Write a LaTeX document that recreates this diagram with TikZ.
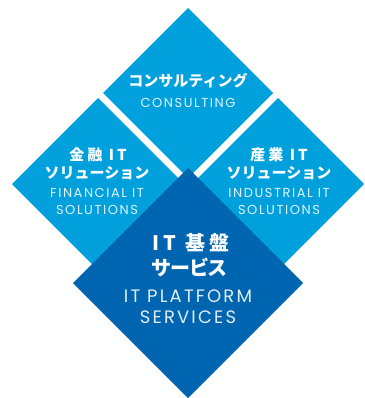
\documentclass[tikz,border=0pt]{standalone}
\usepackage{fontspec}
\newfontfamily\jpfont{Noto Sans CJK JP}
\newfontfamily\jpwide{Noto Sans CJK JP}[LetterSpace=20]
\newfontfamily\jppalt{Noto Sans CJK JP}[RawFeature=+palt]
\newfontfamily\enfont{Poppins}[LetterSpace=12]
\definecolor{lightblue}{HTML}{00A0DC}
\definecolor{darkblue}{HTML}{0065B0}
\tikzset{
  jp/.style={text=white, font=\jpfont\bfseries\fontsize{15}{17}\selectfont, inner sep=0pt},
  jpsp/.style={text=white, font=\jpwide\bfseries\fontsize{15}{17}\selectfont, inner sep=0pt},
  jpbig/.style={text=white, font=\jpwide\bfseries\fontsize{20}{22}\selectfont, inner sep=0pt},
  jpbigp/.style={text=white, font=\jppalt\bfseries\fontsize{20}{22}\selectfont, inner sep=0pt},
  en/.style={text=white!88!lightblue, font=\enfont\fontsize{13}{15}\selectfont, inner sep=0pt},
  enbig/.style={text=white!88!darkblue, font=\enfont\fontsize{18}{20}\selectfont, inner sep=0pt}
}
\begin{document}
\begin{tikzpicture}[x=1pt,y=-1pt]
\useasboundingbox (0,0) rectangle (364,398);
\fill [lightblue] (188,8) -- (273,93) -- (188,178) -- (103,93) -- cycle; %consulting
\fill [lightblue] (98,98) -- (184,184) -- (98,270) -- (12,184) -- cycle; %financial
\fill [lightblue] (278,98) -- (364,184) -- (278,270) -- (192,184) -- cycle; %industrial
\fill [darkblue] (188,168) -- (303,283) -- (188,398) -- (73,283) -- cycle; %platform
\node[jp] (conJ) at (188,81) {コンサルティング};
\node[en] (conE) at (188,103) {CONSULTING};
\node[jpsp] (finJ) at (98,155) {金融 IT};
\node[jp] (finJb) at (97,173) {ソリューション};
\node[en] (finE) at (97,193) {FINANCIAL IT};
\node[en] (finEb) at (97,210) {SOLUTIONS};
\node[jpsp] (indJ) at (279,155) {産業 IT};
\node[jp] (indJb) at (279,173) {ソリューション};
\node[en] (indE) at (279,193) {INDUSTRIAL IT};
\node[en] (indEb) at (279,210) {SOLUTIONS};
\node[jpbig] (plaJ) at (191,243) {IT 基盤};
\node[jpbigp] (plaJb) at (189,267) {サービス};
\node[enbig] (plaE) at (188,296) {IT PLATFORM};
\node[enbig] (plaEb) at (188,317) {SERVICES};
\end{tikzpicture}
\end{document}
